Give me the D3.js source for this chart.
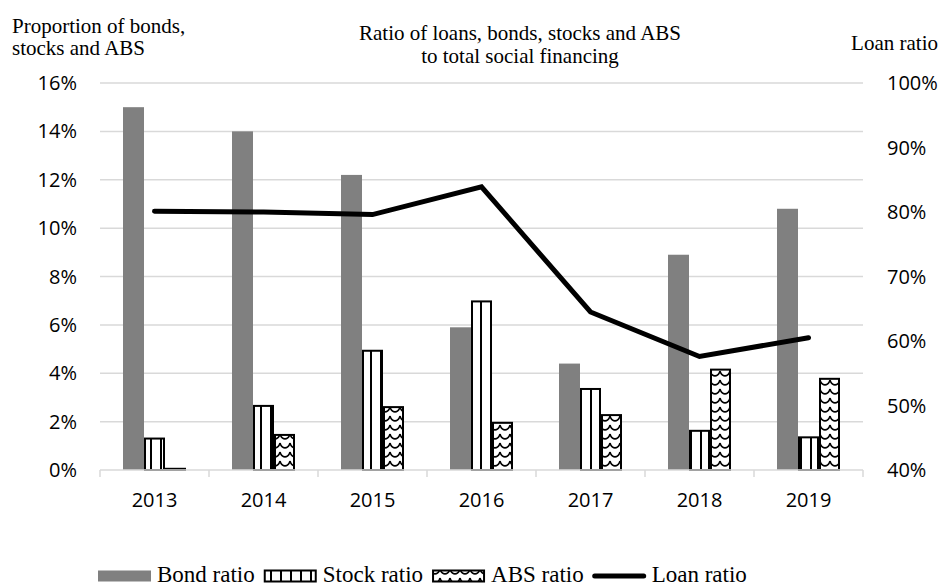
<!DOCTYPE html>
<html>
<head>
<meta charset="utf-8">
<script src="https://cdn.jsdelivr.net/npm/d3@7"></script>
<style>
  html, body { margin: 0; padding: 0; background: #fff; }
  svg { display: block; }
  .serif { font-family: "Liberation Serif", "Times New Roman", serif; fill: #000; }
  .tick-label { font-family: "Open Sans", "Noto Sans", sans-serif; font-size: 20px; fill: #000; }
</style>
</head>
<body>
<svg id="chart" width="943" height="588"></svg>
<script>
// Years on the category axis
const years = ["2013", "2014", "2015", "2016", "2017", "2018", "2019"];
// Shares of total social financing (%), left axis
const bondRatio  = [15.0, 14.0, 12.2, 5.9, 4.4, 8.9, 10.8];
const stockRatio = [1.3, 2.65, 4.93, 6.97, 3.35, 1.62, 1.35];
const absRatio   = [0.05, 1.45, 2.6, 1.95, 2.27, 4.15, 3.77];
// Loan share (%), right axis
const loanRatio  = [80.1, 80.0, 79.6, 83.9, 64.5, 57.6, 60.5];
// Axis ticks
const leftTicks  = [0, 2, 4, 6, 8, 10, 12, 14, 16];
const rightTicks = [40, 50, 60, 70, 80, 90, 100];

const svg = d3.select("#chart");
const plot = { left: 100, right: 863, top: 83, bottom: 470 };

const x = d3.scaleBand().domain(years).range([plot.left, plot.right]).padding(0);
const yL = d3.scaleLinear().domain([0, 16]).range([plot.bottom, plot.top]);
const yR = d3.scaleLinear().domain([40, 100]).range([plot.bottom, plot.top]);

// Fill patterns for the stock and ABS bars
const defs = svg.append("defs");
const vert = defs.append("pattern").attr("id", "vstripe")
  .attr("patternUnits", "userSpaceOnUse").attr("width", 10).attr("height", 10);
vert.append("rect").attr("width", 10).attr("height", 10).attr("fill", "#fff");
vert.append("rect").attr("x", 0).attr("width", 2).attr("height", 10).attr("fill", "#000");

const wave = defs.append("pattern").attr("id", "wave")
  .attr("patternUnits", "userSpaceOnUse").attr("width", 10).attr("height", 9);
wave.append("rect").attr("width", 10).attr("height", 9).attr("fill", "#fff");
wave.append("path").attr("d", "M0,2 C2,8.5 8,8.5 10,2")
  .attr("fill", "none").attr("stroke", "#000").attr("stroke-width", 1.6);

// Horizontal gridlines
svg.append("g").selectAll("line").data(leftTicks.filter(d => d > 0)).join("line")
  .attr("x1", plot.left).attr("x2", plot.right)
  .attr("y1", d => yL(d)).attr("y2", d => yL(d))
  .attr("stroke", "#d9d9d9").attr("stroke-width", 1.5);

// Left axis labels
svg.append("g").selectAll("text").data(leftTicks).join("text")
  .attr("class", "tick-label")
  .attr("x", 77).attr("y", d => yL(d)).attr("dy", "0.35em")
  .attr("text-anchor", "end").text(d => d + "%");

// Right axis labels
svg.append("g").selectAll("text").data(rightTicks).join("text")
  .attr("class", "tick-label")
  .attr("x", 887).attr("y", d => yR(d)).attr("dy", "0.35em")
  .attr("text-anchor", "start").text(d => d + "%");

// Bars
const barW = 21;
const series = [
  { values: bondRatio,  fill: "#808080", stroke: "none", off: -31.5 },
  { values: stockRatio, fill: "url(#vstripe)", stroke: "#000", off: -10.5 },
  { values: absRatio,   fill: "url(#wave)", stroke: "#000", off: 10.5 }
];
series.forEach(s => {
  svg.append("g").selectAll("rect").data(years).join("rect")
    .attr("x", (d, i) => x(d) + x.bandwidth() / 2 + s.off + (s.stroke === "none" ? 0 : 1))
    .attr("width", s.stroke === "none" ? barW : barW - 2)
    .attr("y", (d, i) => yL(s.values[i]))
    .attr("height", (d, i) => yL(0) - yL(s.values[i]))
    .attr("fill", s.fill)
    .attr("stroke", s.stroke)
    .attr("stroke-width", 2);
});

// Category axis line and ticks
const axisG = svg.append("g");
axisG.append("line").attr("x1", plot.left).attr("x2", plot.right)
  .attr("y1", plot.bottom).attr("y2", plot.bottom)
  .attr("stroke", "#d9d9d9").attr("stroke-width", 1.5);
const bounds = years.map(d => x(d)).concat([plot.right]);
axisG.selectAll("line.tk").data(bounds).join("line").attr("class", "tk")
  .attr("x1", d => d).attr("x2", d => d)
  .attr("y1", plot.bottom).attr("y2", plot.bottom + 7)
  .attr("stroke", "#d9d9d9").attr("stroke-width", 1.5);
axisG.selectAll("text").data(years).join("text")
  .attr("class", "tick-label")
  .attr("x", d => x(d) + x.bandwidth() / 2).attr("y", 507)
  .attr("text-anchor", "middle").text(d => d);

// Loan ratio line
const line = d3.line()
  .x((d, i) => x(years[i]) + x.bandwidth() / 2)
  .y(d => yR(d));
svg.append("path").datum(loanRatio)
  .attr("d", line).attr("fill", "none").attr("stroke", "#000")
  .attr("stroke-width", 5).attr("stroke-linecap", "round").attr("stroke-linejoin", "miter");

// Titles
const leftTitle = svg.append("text").attr("class", "serif").attr("font-size", 21);
leftTitle.append("tspan").attr("x", 12).attr("y", 33).text("Proportion of bonds,");
leftTitle.append("tspan").attr("x", 12).attr("y", 55).text("stocks and ABS");

const title = svg.append("text").attr("class", "serif").attr("font-size", 21).attr("text-anchor", "middle");
title.append("tspan").attr("x", 520).attr("y", 40).text("Ratio of loans, bonds, stocks and ABS");
title.append("tspan").attr("x", 520).attr("y", 63).text("to total social financing");

svg.append("text").attr("class", "serif").attr("font-size", 21)
  .attr("x", 938).attr("y", 50).attr("text-anchor", "end").text("Loan ratio");

// Legend
const legendItems = [
  { label: "Bond ratio",  type: "bar", fill: "#808080", stroke: "none" },
  { label: "Stock ratio", type: "bar", fill: "url(#vstripe)", stroke: "#000" },
  { label: "ABS ratio",   type: "bar", fill: "url(#wave)", stroke: "#000" },
  { label: "Loan ratio",  type: "line" }
];
const legend = svg.append("g");
let lx = 98;
const keyW = 53, ly = 576;
legendItems.forEach(item => {
  if (item.type === "bar") {
    legend.append("rect")
      .attr("x", lx + (item.stroke === "none" ? 0 : 1)).attr("y", ly - 5.5)
      .attr("width", item.stroke === "none" ? keyW : keyW - 2).attr("height", 11)
      .attr("fill", item.fill).attr("stroke", item.stroke).attr("stroke-width", 2);
  } else {
    legend.append("line").attr("x1", lx + 2).attr("x2", lx + keyW - 2)
      .attr("y1", ly).attr("y2", ly)
      .attr("stroke", "#000").attr("stroke-width", 5).attr("stroke-linecap", "round");
  }
  const t = legend.append("text").attr("class", "serif").attr("font-size", 23)
    .attr("x", lx + keyW + 6).attr("y", 582).text(item.label);
  lx += keyW + 6 + t.node().getComputedTextLength() + 9;
});
</script>
</body>
</html>
